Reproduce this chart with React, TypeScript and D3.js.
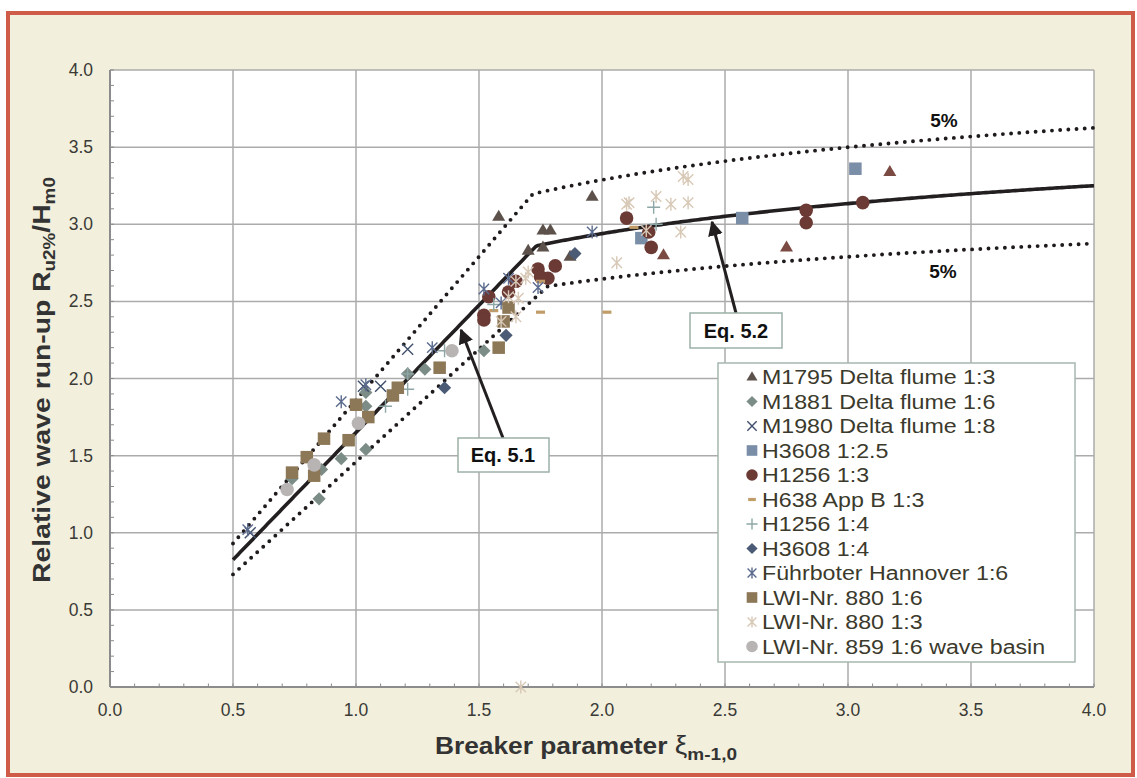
import React from "react";
import * as d3 from "d3";

type Pt = [number, number];

// ---------- data ----------
const xTicks = [0, 0.5, 1, 1.5, 2, 2.5, 3, 3.5, 4];
const yTicks = [0, 0.5, 1, 1.5, 2, 2.5, 3, 3.5, 4];

const m1795: Pt[] = [[1.58, 3.05], [1.70, 2.83], [1.76, 2.85], [1.76, 2.96], [1.79, 2.96], [1.87, 2.79], [1.96, 3.18]];
const m1795b: Pt[] = [[2.25, 2.80], [2.75, 2.85], [3.17, 3.34]];
const m1881: Pt[] = [[0.85, 1.22], [0.94, 1.48], [1.04, 1.54], [0.86, 1.41], [0.74, 1.35], [1.04, 1.82], [1.04, 1.91], [1.21, 2.03], [1.28, 2.06], [1.52, 2.18]];
const m1980: Pt[] = [[0.57, 1.00], [1.03, 1.95], [1.10, 1.95], [1.21, 2.19]];
const h3608a: Pt[] = [[2.16, 2.91], [2.57, 3.04], [3.03, 3.36]];
const h1256a: Pt[] = [[1.52, 2.41], [1.52, 2.38], [1.54, 2.53], [1.62, 2.56], [1.65, 2.63], [1.74, 2.71], [1.75, 2.66], [1.78, 2.65], [1.81, 2.73], [2.10, 3.04], [2.19, 2.95], [2.20, 2.85], [2.83, 3.09], [2.83, 3.01], [3.06, 3.14]];
const h638: Pt[] = [[1.56, 2.44], [1.75, 2.43], [2.02, 2.43], [1.75, 2.63], [2.13, 2.98]];
const h1256b: Pt[] = [[1.12, 1.82], [1.21, 1.93], [1.21, 2.03], [1.36, 2.18], [1.56, 2.48], [2.21, 3.11], [2.22, 3.00]];
const h3608b: Pt[] = [[1.36, 1.94], [1.61, 2.28], [1.89, 2.81]];
const fuhrboter: Pt[] = [[0.56, 1.02], [0.94, 1.85], [1.04, 1.96], [1.31, 2.20], [1.52, 2.58], [1.62, 2.65], [1.74, 2.59], [1.96, 2.95], [1.59, 2.49]];
const lwi880a: Pt[] = [[0.74, 1.39], [0.80, 1.49], [0.87, 1.61], [0.83, 1.37], [0.97, 1.60], [1.00, 1.83], [1.05, 1.75], [1.15, 1.89], [1.17, 1.94], [1.34, 2.07], [1.58, 2.20], [1.60, 2.37], [1.62, 2.46]];
const lwi880b: Pt[] = [[1.59, 2.37], [1.65, 2.40], [1.62, 2.53], [1.66, 2.52], [1.65, 2.63], [1.69, 2.65], [1.70, 2.69], [2.06, 2.75], [2.10, 3.13], [2.11, 3.14], [2.18, 2.96], [2.22, 3.18], [2.28, 3.13], [2.32, 2.95], [2.33, 3.31], [2.35, 3.29], [2.35, 3.14], [1.67, 0.0]];
const lwi859: Pt[] = [[0.72, 1.28], [0.83, 1.44], [1.01, 1.71], [1.39, 2.18]];

// Equation curves: min(a*xi, c - b/sqrt(xi))
const eqMean = { a: 1.65, c: 4.0, b: 1.5 };
const eqUpper = { a: 1.86, c: 4.44, b: 1.63 };
const eqLower = { a: 1.46, c: 3.43, b: 1.11 };
const xiRange = [0.5, 4.0];

type Marker = "triangle" | "diamond" | "x" | "square" | "circle" | "dash" | "plus" | "asterisk";
interface Series { name: string; data: Pt[]; marker: Marker; color: string; legend: boolean; }

const series: Series[] = [
  { name: "M1795 Delta flume 1:3", data: m1795, marker: "triangle", color: "#5d514b", legend: true },
  { name: "M1795b", data: m1795b, marker: "triangle", color: "#7b4a42", legend: false },
  { name: "M1881 Delta flume 1:6", data: m1881, marker: "diamond", color: "#7c8c86", legend: true },
  { name: "M1980 Delta flume 1:8", data: m1980, marker: "x", color: "#3f4f6c", legend: true },
  { name: "H3608 1:2.5", data: h3608a, marker: "square", color: "#7a8ea8", legend: true },
  { name: "H1256 1:3", data: h1256a, marker: "circle", color: "#6b3a35", legend: true },
  { name: "H638 App B 1:3", data: h638, marker: "dash", color: "#c09c68", legend: true },
  { name: "H1256 1:4", data: h1256b, marker: "plus", color: "#8ea6a6", legend: true },
  { name: "H3608 1:4", data: h3608b, marker: "diamond", color: "#4b5b76", legend: true },
  { name: "Führboter Hannover 1:6", data: fuhrboter, marker: "asterisk", color: "#5b6b8e", legend: true },
  { name: "LWI-Nr. 880 1:6", data: lwi880a, marker: "square", color: "#8c7756", legend: true },
  { name: "LWI-Nr. 880 1:3", data: lwi880b, marker: "asterisk", color: "#d8c8b6", legend: true },
  { name: "LWI-Nr. 859 1:6 wave basin", data: lwi859, marker: "circle", color: "#b9b4b4", legend: true },
];

const W = 1137, H = 778;
const PL = 110, PR = 1094, PT = 70, PB = 687;
const FONT = "Arial, 'Liberation Sans', Helvetica, sans-serif";

function MarkerShape({ m, x, y, color, s = 1 }: { m: Marker; x: number; y: number; color: string; s?: number }) {
  const t = `translate(${x},${y})`;
  switch (m) {
    case "triangle": {
      const h = 11 * s, w = 13 * s;
      return <path transform={t} d={`M0,${-h * 0.62}L${w / 2},${h * 0.38}L${-w / 2},${h * 0.38}Z`} fill={color} />;
    }
    case "square": {
      const a = 12.5 * s;
      return <rect x={x - a / 2} y={y - a / 2} width={a} height={a} fill={color} />;
    }
    case "circle":
      return <circle cx={x} cy={y} r={6.8 * s} fill={color} />;
    case "diamond": {
      const r = 6.6 * s;
      return <path transform={t} d={`M0,${-r}L${r},0L0,${r}L${-r},0Z`} fill={color} />;
    }
    case "x": {
      const r = 5.5 * s;
      return <path transform={t} d={`M${-r},${-r}L${r},${r}M${-r},${r}L${r},${-r}`} stroke={color} strokeWidth={1.4} fill="none" />;
    }
    case "plus": {
      const r = 6.5 * s;
      return <path transform={t} d={`M${-r},0L${r},0M0,${-r}L0,${r}`} stroke={color} strokeWidth={1.4} fill="none" />;
    }
    case "asterisk": {
      const r = 6.5 * s;
      const q = r * 0.8;
      return <path transform={t} d={`M${-q},${-q}L${q},${q}M${-q},${q}L${q},${-q}M0,${-r}L0,${r}`} stroke={color} strokeWidth={1.4} fill="none" />;
    }
    case "dash":
      return <rect x={x - 4.5 * s} y={y - 1.6} width={9 * s} height={3.2} fill={color} />;
  }
  return null;
}

export default function App() {
  const x = d3.scaleLinear().domain([0, 4]).range([PL, PR]);
  const y = d3.scaleLinear().domain([0, 4]).range([PB, PT]);

  const xs = d3.range(xiRange[0], xiRange[1] + 1e-9, 0.01);
  const curve = (e: { a: number; c: number; b: number }) =>
    d3.line<number>().x((v) => x(v)).y((v) => y(Math.min(e.a * v, e.c - e.b / Math.sqrt(v))))(xs) || "";

  const minor = d3.range(0, 4.0001, 0.1);

  const legendX = 718, legendY = 363, legendW = 357, legendH = 299;
  const legendItems = series.filter((s) => s.legend);

  return (
    <svg width={W} height={H} style={{ position: "absolute", left: 0, top: 0 }} fontFamily={FONT}>
      <rect x={0} y={0} width={W} height={H} fill="#ffffff" />
      <rect x={8} y={13} width={1125} height={762} fill="#f2efdc" stroke="#cf5b49" strokeWidth={4} />

      {/* plot area */}
      <rect x={PL} y={PT} width={PR - PL} height={PB - PT} fill="#ffffff" />
      {xTicks.map((t) => (
        <line key={"gx" + t} x1={x(t)} x2={x(t)} y1={PT} y2={PB} stroke="#ababab" strokeWidth={1.5} />
      ))}
      {yTicks.map((t) => (
        <line key={"gy" + t} x1={PL} x2={PR} y1={y(t)} y2={y(t)} stroke="#ababab" strokeWidth={1.5} />
      ))}
      {minor.map((t, i) => (
        <g key={"mt" + i}>
          <line x1={x(t)} x2={x(t)} y1={PB} y2={PB - 3.5} stroke="#8a8a8a" strokeWidth={1} />
          <line x1={PL} x2={PL + 4} y1={y(t)} y2={y(t)} stroke="#8a8a8a" strokeWidth={1} />
        </g>
      ))}
      <line x1={PL} x2={PL} y1={PT} y2={PB} stroke="#8c8c8c" strokeWidth={2} />
      <line x1={PL} x2={PR} y1={PB} y2={PB} stroke="#8c8c8c" strokeWidth={2} />

      {/* tick labels */}
      {yTicks.map((t) => (
        <text key={"yl" + t} x={93} y={y(t) + 6} textAnchor="end" fontSize={17.5} fill="#3a3a36">
          {t.toFixed(1)}
        </text>
      ))}
      {xTicks.map((t) => (
        <text key={"xl" + t} x={x(t)} y={716} textAnchor="middle" fontSize={17.5} fill="#3a3a36">
          {t.toFixed(1)}
        </text>
      ))}

      {/* axis titles */}
      <text transform={`translate(586,754) scale(1.12,1)`} textAnchor="middle" fontSize={23.5} fontWeight="bold" fill="#333333">
        Breaker parameter <tspan fontWeight="normal" fontSize={25}>ξ</tspan>
        <tspan fontSize={17} dy={6}>m-1,0</tspan>
      </text>
      <text transform={`translate(50,380) rotate(-90) scale(1.18,1)`} textAnchor="middle" fontSize={24} fontWeight="bold" fill="#333333">
        Relative wave run-up R<tspan fontSize={16} dy={5}>u2%</tspan>
        <tspan dy={-5}>/H</tspan>
        <tspan fontSize={16} dy={5}>m0</tspan>
      </text>

      {/* equation curves */}
      <path d={curve(eqUpper)} fill="none" stroke="#1f1b1c" strokeWidth={3.9} strokeDasharray="0 8.2" strokeLinecap="round" />
      <path d={curve(eqLower)} fill="none" stroke="#1f1b1c" strokeWidth={3.9} strokeDasharray="0 8.2" strokeLinecap="round" />
      <path d={curve(eqMean)} fill="none" stroke="#231f20" strokeWidth={3.6} strokeLinejoin="round" />

      {/* data */}
      {series.map((s) => (
        <g key={s.name}>
          {s.data.map((d, i) => (
            <MarkerShape key={i} m={s.marker} x={x(d[0])} y={y(d[1])} color={s.color} />
          ))}
        </g>
      ))}

      {/* 5% labels */}
      <text x={944} y={127} textAnchor="middle" fontSize={19} fontWeight="bold" fill="#111">5%</text>
      <text x={943} y={278} textAnchor="middle" fontSize={19} fontWeight="bold" fill="#111">5%</text>

      {/* Eq. 5.2 */}
      <defs>
        <marker id="arr" viewBox="0 0 10 10" refX={9} refY={5} markerWidth={5} markerHeight={5} orient="auto">
          <path d="M0,0L10,5L0,10Z" fill="#231f20" />
        </marker>
      </defs>
      <line x1={736} y1={313} x2={712} y2={222} stroke="#231f20" strokeWidth={3} markerEnd="url(#arr)" />
      <rect x={690} y={313} width={92} height={35} fill="#ffffff" stroke="#9db0a8" strokeWidth={1.5} />
      <text x={736} y={338} textAnchor="middle" fontSize={20} fontWeight="bold" fill="#111">Eq. 5.2</text>

      {/* Eq. 5.1 */}
      <line x1={503} y1={438} x2={461} y2={330} stroke="#231f20" strokeWidth={3} markerEnd="url(#arr)" />
      <rect x={458} y={438} width={91} height={34} fill="#ffffff" stroke="#9db0a8" strokeWidth={1.5} />
      <text x={503} y={462} textAnchor="middle" fontSize={20} fontWeight="bold" fill="#111">Eq. 5.1</text>

      {/* legend */}
      <rect x={legendX} y={legendY} width={legendW} height={legendH} fill="#ffffff" stroke="#a7b8b0" strokeWidth={1.5} />
      {legendItems.map((s, i) => {
        const cy = 377 + i * 24.5;
        return (
          <g key={"lg" + s.name}>
            <MarkerShape m={s.marker} x={752} y={cy} color={s.color} s={0.85} />
            <text transform={`translate(762,${cy + 7}) scale(1.19,1)`} fontSize={19.5} fill="#3b3a2c">
              {s.name}
            </text>
          </g>
        );
      })}
    </svg>
  );
}
